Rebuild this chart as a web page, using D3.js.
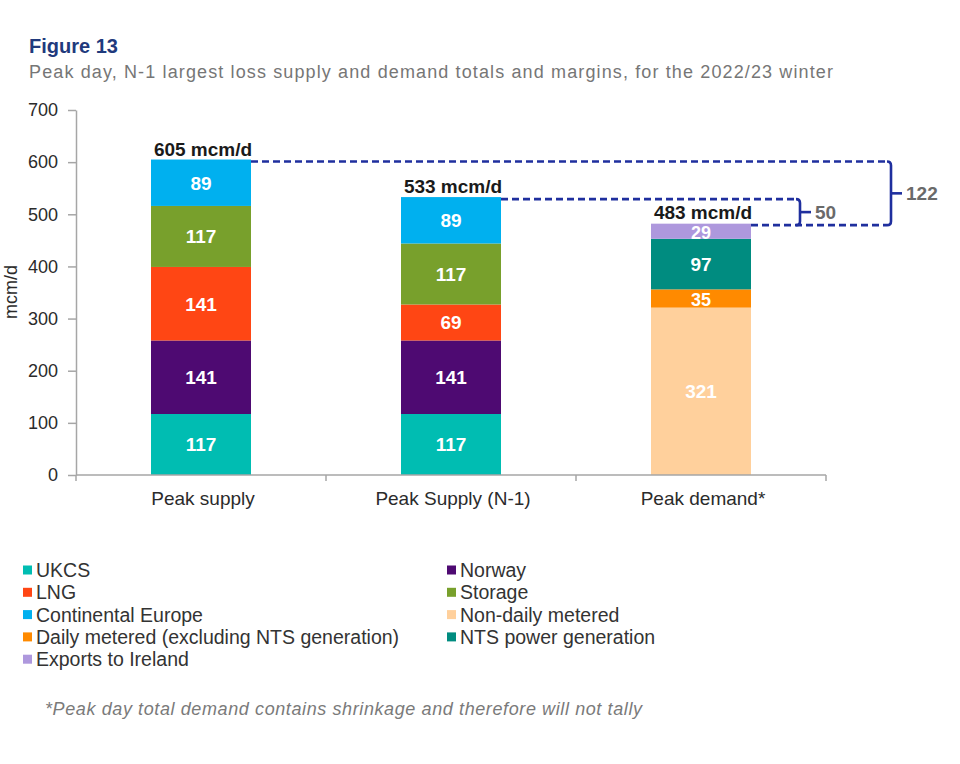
<!DOCTYPE html>
<html><head><meta charset="utf-8">
<script src="https://cdn.jsdelivr.net/npm/d3@7"></script>
<style>
body{margin:0;background:#fff}
text{font-family:"Liberation Sans",Arial,Helvetica,sans-serif}
</style></head>
<body><svg id="c" width="960" height="764"></svg>
<script>
// ---------- data ----------
const categories = ["Peak supply", "Peak Supply (N-1)", "Peak demand*"];
const seriesNames = ["UKCS", "Norway", "LNG", "Storage", "Continental Europe",
  "Non-daily metered", "Daily metered (excluding NTS generation)", "NTS power generation", "Exports to Ireland"];
const seriesColors = ["#00bdb2", "#4e0a72", "#ff4614", "#78a02c", "#00b0ef",
  "#ffd09c", "#ff8a00", "#008c80", "#ae98dd"];
const ukcs           = [117, 117, 0];
const norway         = [141, 141, 0];
const lng            = [141, 69, 0];
const storage        = [117, 117, 0];
const contEurope     = [89, 89, 0];
const nonDaily       = [0, 0, 321];
const dailyMetered   = [0, 0, 35];
const ntsPower       = [0, 0, 97];
const exportsIreland = [0, 0, 29];
const totals = [605, 533, 483];
const totalLabels = ["605 mcm/d", "533 mcm/d", "483 mcm/d"];
const marginFrom = [1, 0];
const marginTo = [2, 2];
const marginValues = [50, 122];
const yTicks = [0, 100, 200, 300, 400, 500, 600, 700];
const title = "Figure 13";
const subtitle = "Peak day, N-1 largest loss supply and demand totals and margins, for the 2022/23 winter";
const yLabel = "mcm/d";
const footnote = "*Peak day total demand contains shrinkage and therefore will not tally";

// ---------- build table ----------
const seriesValues = [ukcs, norway, lng, storage, contEurope, nonDaily, dailyMetered, ntsPower, exportsIreland];
const rows = categories.map((c, i) => {
  const r = {cat: c};
  seriesNames.forEach((s, j) => r[s] = seriesValues[j][i]);
  return r;
});
const stacked = d3.stack().keys(seriesNames)(rows);

const svg = d3.select("#c");
const x = d3.scaleBand().domain(categories).range([76, 826]).paddingInner(0.6).paddingOuter(0.3);
const y = d3.scaleLinear().domain([0, 700]).range([475, 110]);
const color = d3.scaleOrdinal().domain(seriesNames).range(seriesColors);

// titles
svg.append("text").attr("x", 29).attr("y", 53).attr("font-size", 20).attr("font-weight", "bold")
  .attr("fill", "#1f3a7d").text(title);
svg.append("text").attr("x", 29).attr("y", 78).attr("font-size", 18).attr("fill", "#767676")
  .attr("textLength", 804).attr("lengthAdjust", "spacing").text(subtitle);

// y axis
const yAxis = svg.append("g").attr("transform", "translate(76,0)")
  .call(d3.axisLeft(y).tickValues(yTicks).tickSize(8).tickSizeOuter(0).tickPadding(10));
yAxis.select(".domain").attr("stroke", "#a6a6a6").attr("stroke-width", 1.5);
yAxis.selectAll(".tick line").attr("stroke", "#a6a6a6").attr("stroke-width", 1.5);
yAxis.selectAll(".tick text").attr("font-size", 18).attr("fill", "#2b2b2b")
  .attr("font-family", "'Liberation Sans',Arial,sans-serif");

svg.append("text").attr("transform", "translate(17,292) rotate(-90)").attr("text-anchor", "middle")
  .attr("font-size", 18).attr("fill", "#2b2b2b").text(yLabel);

// bars
const layers = svg.append("g").selectAll("g").data(stacked).join("g").attr("fill", d => color(d.key));
layers.selectAll("rect").data(d => d.filter(p => p[1] - p[0] > 0)).join("rect")
  .attr("x", d => x(d.data.cat)).attr("width", x.bandwidth())
  .attr("y", d => y(d[1])).attr("height", d => y(d[0]) - y(d[1]));

// segment labels
const segLabels = [];
stacked.forEach(s => s.forEach(p => { if (p[1] - p[0] > 0) segLabels.push({cat: p.data.cat, v: p[1] - p[0], mid: (p[0] + p[1]) / 2}); }));
svg.append("g").selectAll("text").data(segLabels).join("text")
  .attr("x", d => x(d.cat) + x.bandwidth() / 2).attr("y", d => y(d.mid))
  .attr("dy", d => d.v < 40 ? "0.42em" : "0.36em").attr("text-anchor", "middle")
  .attr("font-size", d => d.v < 40 ? 18 : 19).attr("font-weight", "bold")
  .attr("fill", "#fff").text(d => d.v);

// x axis
const xr = x.range();
svg.append("line").attr("x1", xr[0]).attr("x2", xr[1]).attr("y1", y(0)).attr("y2", y(0))
  .attr("stroke", "#a6a6a6").attr("stroke-width", 1.5);
d3.range(categories.length + 1).forEach(i => {
  const xx = xr[0] + i * x.step();
  svg.append("line").attr("x1", xx).attr("x2", xx).attr("y1", y(0)).attr("y2", y(0) + 6)
    .attr("stroke", "#a6a6a6").attr("stroke-width", 1.5);
});
svg.append("g").selectAll("text").data(categories).join("text")
  .attr("x", d => x(d) + x.bandwidth() / 2 + 2).attr("y", 505).attr("text-anchor", "middle")
  .attr("font-size", 19).attr("fill", "#2b2b2b").text(d => d);

// totals
svg.append("g").selectAll("text").data(categories).join("text")
  .attr("x", d => x(d) + x.bandwidth() / 2 + 2).attr("y", (d, i) => y(totals[i]) - 4)
  .attr("text-anchor", "middle").attr("font-size", 19).attr("font-weight", "bold")
  .attr("fill", "#1a1a1a").text((d, i) => totalLabels[i]);

// margin brackets
const navy = "#1f2f9e";
const bx = [x(categories[2]) + x.bandwidth() + 49, xr[1] + 65];
const gB = svg.append("g").attr("fill", "none").attr("stroke", navy).attr("stroke-width", 2.6);
const r = 4;
totals.forEach((t, i) => {
  let xEnd;
  if (i === 2) xEnd = bx[1] - r;
  else { const k = marginFrom.indexOf(i); xEnd = bx[k] - r; }
  gB.append("line").attr("x1", x(categories[i]) + x.bandwidth()).attr("x2", xEnd)
    .attr("y1", y(t) + 2).attr("y2", y(t) + 2).attr("stroke-dasharray", "7,4");
});
marginValues.forEach((m, k) => {
  const yt = y(totals[marginFrom[k]]) + 2, yb = y(totals[marginTo[k]]) + 2, xb = bx[k];
  const ym = (yt + yb) / 2;
  gB.append("path").attr("d",
    `M${xb - r},${yt} Q${xb},${yt} ${xb},${yt + r} L${xb},${yb - r} Q${xb},${yb} ${xb - r},${yb}`);
  gB.append("line").attr("x1", xb).attr("x2", xb + 11).attr("y1", ym).attr("y2", ym);
  svg.append("text").attr("x", xb + 15).attr("y", ym).attr("dy", "0.36em")
    .attr("font-size", 19).attr("font-weight", "bold").attr("fill", "#6a6a6a").text(m);
});

// legend (2 columns, row-major)
const lg = svg.append("g");
seriesNames.forEach((s, i) => {
  const col = i % 2, row = Math.floor(i / 2);
  const lx = col === 0 ? 23 : 447, ly = 570 + row * 22.3;
  lg.append("rect").attr("x", lx).attr("y", ly - 4.5).attr("width", 9).attr("height", 9).attr("fill", color(s));
  lg.append("text").attr("x", lx + 13).attr("y", ly + 7).attr("font-size", 19.5).attr("fill", "#333").text(s);
});

// footnote
svg.append("text").attr("x", 45).attr("y", 715).attr("font-size", 18).attr("font-style", "italic")
  .attr("fill", "#7a7a7a").attr("textLength", 597).attr("lengthAdjust", "spacing").text(footnote);
</script></body></html>
